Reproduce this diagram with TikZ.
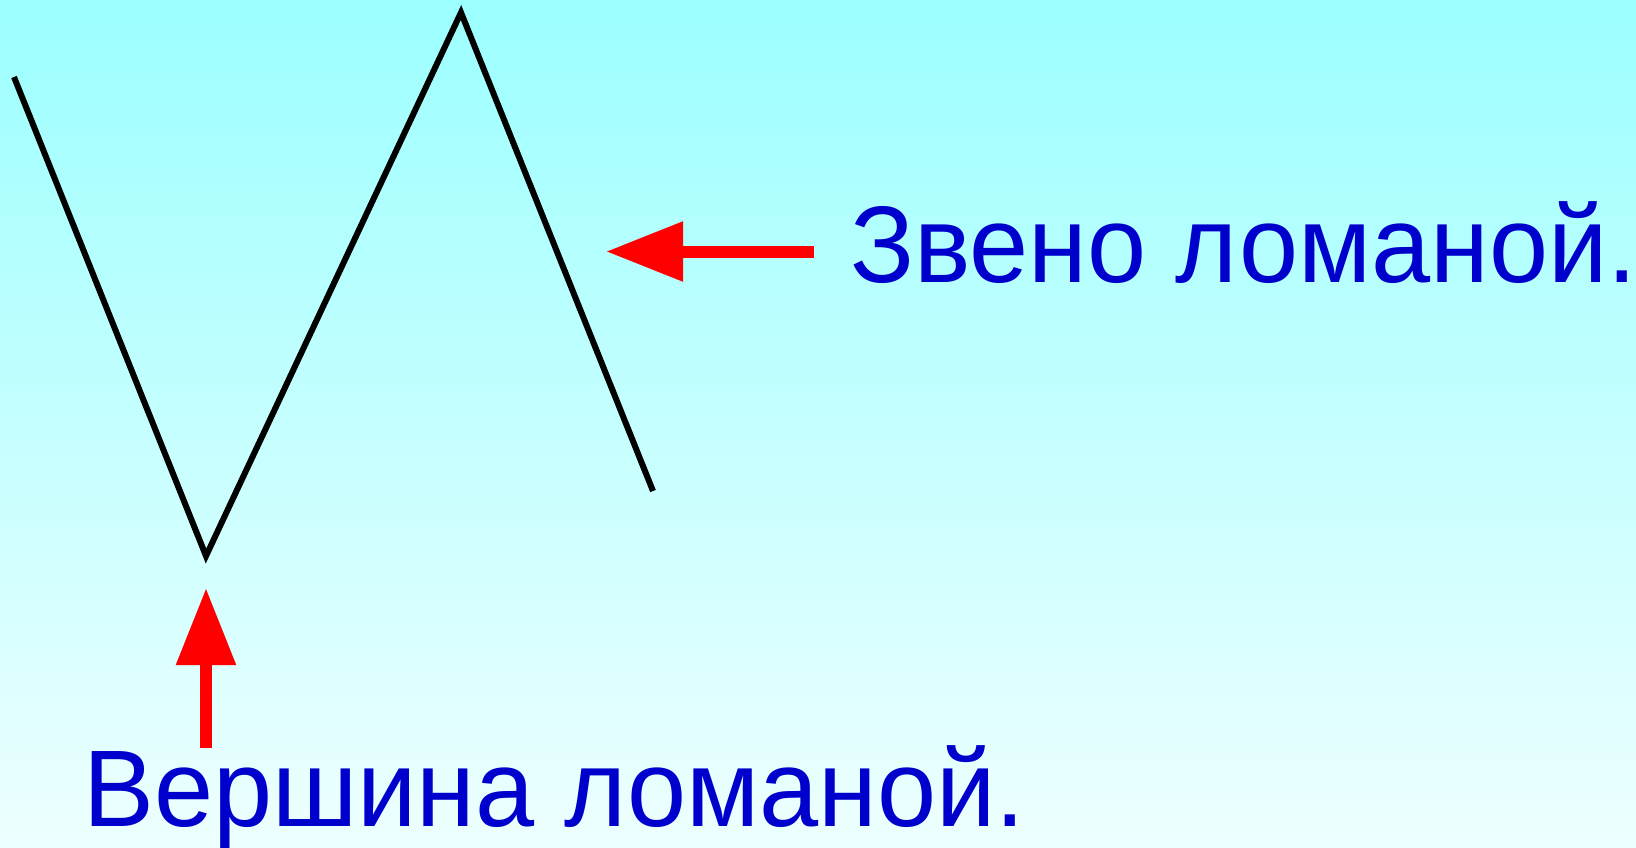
\documentclass[tikz,border=0pt]{standalone}
\usepackage{fontspec}
\setmainfont{Liberation Sans}
\usetikzlibrary{arrows.meta}
\definecolor{skytop}{HTML}{9CFFFF}
\definecolor{skybottom}{HTML}{EEFFFF}
\definecolor{labelblue}{HTML}{0000CC}
\tikzstyle{label-text} = [text=labelblue, anchor=base west, inner sep=0pt,
    font=\fontsize{109}{120}\selectfont]
\tikzstyle{poly-line} = [draw=black, line width=6pt, line join=miter]
\tikzstyle{red-arrow} = [draw=red, line width=12pt,
    -{Triangle[length=77pt, width=57pt, fill=red]}]
\newcommand{\narrow}[1]{\scalebox{0.975}[1]{#1}}

\begin{document}
\begin{tikzpicture}[x=1pt, y=-1pt]
\shade[top color=skytop, bottom color=skybottom] (0,0) rectangle (1636,847);
\useasboundingbox (0,0) rectangle (1636,847);
\coordinate (p1) at (14,77);
\coordinate (p2) at (206,556);
\coordinate (p3) at (461,12.5);
\coordinate (p4) at (653,491);
\draw [poly-line] (p1) -- (p2) -- (p3) -- (p4);
\node [label-text] (link) at (850,282) {\narrow{Звено ломаной.}};
\node [label-text] (vertex) at (83,826) {\narrow{Вершина ломаной.}};
\coordinate (link-start) at (814,251.5);
\coordinate (link-tip) at (606,251.5);
\coordinate (vertex-start) at (206,748);
\coordinate (vertex-tip) at (206,588);
\draw [red-arrow] (link-start) -- (link-tip);
\draw [red-arrow] (vertex-start) -- (vertex-tip);
\end{tikzpicture}
\end{document}
